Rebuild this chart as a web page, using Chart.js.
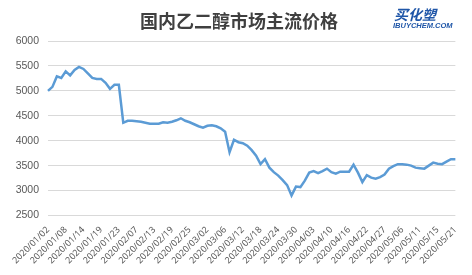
<!DOCTYPE html>
<html>
<head>
<meta charset="utf-8">
<script src="https://cdn.jsdelivr.net/npm/chart.js@4"></script>
<style>
  body { margin: 0; background: #fff; }
  #wrap { width: 472px; height: 275px; }
</style>
</head>
<body>
<div id="wrap"><canvas id="grafico" width="472" height="275"></canvas></div>
<script>
// 国内乙二醇市场主流价格 (元/吨)
const titulo = '国内乙二醇市场主流价格';

const datas = [
  '2020/01/02', '2020/01/03', '2020/01/06', '2020/01/07', '2020/01/08', '2020/01/09', '2020/01/10', '2020/01/13', '2020/01/14',
  '2020/01/15', '2020/01/16', '2020/01/17', '2020/01/19', '2020/01/20', '2020/01/21', '2020/01/22', '2020/01/23',
  '2020/02/04', '2020/02/05', '2020/02/06', '2020/02/07', '2020/02/10', '2020/02/11', '2020/02/12', '2020/02/13', '2020/02/14',
  '2020/02/17', '2020/02/18', '2020/02/19', '2020/02/20', '2020/02/21', '2020/02/24', '2020/02/25', '2020/02/26', '2020/02/27', '2020/02/28',
  '2020/03/02', '2020/03/03', '2020/03/04', '2020/03/05', '2020/03/06', '2020/03/09', '2020/03/10', '2020/03/11', '2020/03/12',
  '2020/03/13', '2020/03/16', '2020/03/17', '2020/03/18', '2020/03/19', '2020/03/20', '2020/03/23', '2020/03/24', '2020/03/25',
  '2020/03/26', '2020/03/27', '2020/03/30', '2020/03/31',
  '2020/04/01', '2020/04/02', '2020/04/03', '2020/04/07', '2020/04/08', '2020/04/09', '2020/04/10', '2020/04/13', '2020/04/14',
  '2020/04/15', '2020/04/16', '2020/04/17', '2020/04/20', '2020/04/21', '2020/04/22', '2020/04/23', '2020/04/24', '2020/04/26',
  '2020/04/27', '2020/04/28', '2020/04/29', '2020/04/30',
  '2020/05/06', '2020/05/07', '2020/05/08', '2020/05/09', '2020/05/11', '2020/05/12', '2020/05/13', '2020/05/14', '2020/05/15',
  '2020/05/18', '2020/05/19', '2020/05/20', '2020/05/21'
];

const precos = [
  5000, 5080, 5290, 5260, 5390, 5310, 5420, 5480, 5440, 5350, 5260, 5240, 5240, 5160, 5040, 5120, 5120,
  4360, 4400, 4400, 4390, 4380, 4360, 4340, 4340, 4340, 4370, 4360, 4380, 4410, 4450, 4400, 4370, 4330, 4290, 4260,
  4300, 4310, 4290, 4250, 4180, 3770, 4020, 3970, 3950, 3900, 3810, 3700, 3530, 3630, 3460, 3370, 3300, 3210, 3110, 2900, 3080, 3070,
  3200, 3360, 3390, 3350, 3390, 3440, 3370, 3340, 3380, 3380, 3380, 3520, 3360, 3170, 3310, 3260, 3240, 3270, 3320, 3440, 3490, 3530,
  3530, 3520, 3500, 3460, 3450, 3440, 3500, 3560, 3540, 3530, 3580, 3630, 3630
];

const eixoY = { min: 2500, max: 6000, passo: 500 };
const intervaloRotulos = 4; // mostra uma data a cada 4

// fundo branco, título e logo
const cabecalho = {
  id: 'cabecalho',
  beforeDraw(chart) {
    const c = chart.ctx;
    c.save();
    c.fillStyle = '#fff';
    c.fillRect(0, 0, chart.width, chart.height);
    c.fillStyle = '#404040';
    c.font = 'bold 18px "Noto Sans CJK SC"';
    c.textAlign = 'center';
    c.textBaseline = 'middle';
    c.fillText(titulo, 239, 21);
    // logo
    c.fillStyle = '#1f56a8';
    c.textAlign = 'left';
    c.font = 'italic bold 14px "Noto Sans CJK SC"';
    c.fillText('买化塑', 394, 15);
    c.font = 'italic bold 7.5px "Liberation Sans"';
    c.fillText('IBUYCHEM.COM', 393, 26);
    c.restore();
  }
};

const ctx = document.getElementById('grafico').getContext('2d');
new Chart(ctx, {
  type: 'line',
  data: {
    labels: datas,
    datasets: [{
      label: titulo,
      data: precos,
      borderColor: '#5b9bd5',
      borderWidth: 2.5,
      pointRadius: 0,
      tension: 0,
      fill: false
    }]
  },
  options: {
    responsive: false,
    animation: false,
    layout: { padding: { top: 41, right: 13, left: 0, bottom: 0 } },
    plugins: {
      legend: { display: false },
      tooltip: { enabled: false }
    },
    scales: {
      x: {
        offset: false,
        grid: { display: false, drawTicks: false },
        border: { display: false },
        afterFit: s => { s.height = 59.5; },
        ticks: {
          autoSkip: false,
          minRotation: 45,
          maxRotation: 45,
          padding: 9,
          color: '#595959',
          font: { family: '"Noto Sans"', size: 9 },
          callback: function (v, i) {
            return i % intervaloRotulos === 0 ? this.getLabelForValue(v) : null;
          }
        }
      },
      y: {
        min: eixoY.min,
        max: eixoY.max,
        afterFit: s => { s.width = 48; },
        grid: { color: '#d9d9d9', lineWidth: 1, drawTicks: false },
        border: { display: false },
        ticks: {
          stepSize: eixoY.passo,
          padding: 9,
          color: '#595959',
          font: { family: '"Liberation Sans"', size: 10.5 },
          callback: v => String(v)
        }
      }
    }
  },
  plugins: [cabecalho]
});
</script>
</body>
</html>
